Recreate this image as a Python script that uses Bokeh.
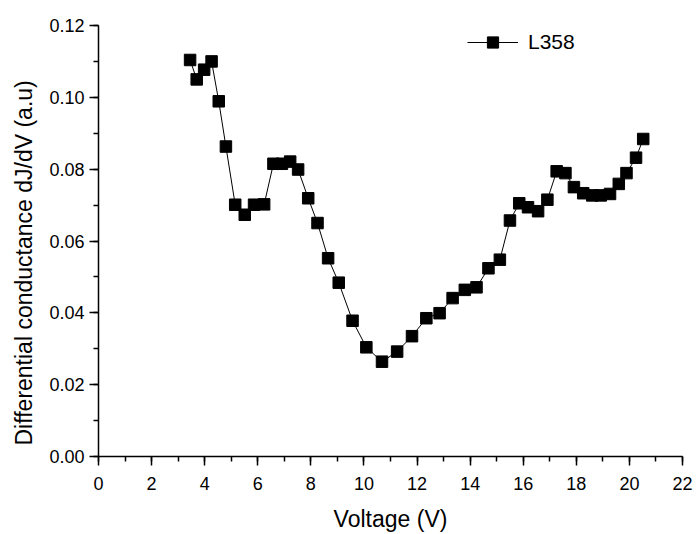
from bokeh.plotting import figure
from bokeh.models import (Range1d, SingleIntervalTicker, NumeralTickFormatter,
                          Legend, LegendItem, ColumnDataSource, Title)
from bokeh.embed import file_html
from bokeh.resources import INLINE

# ---- data ----
voltage = [3.45, 3.70, 3.98, 4.26, 4.53, 4.80, 5.15, 5.51, 5.86, 6.24,
           6.59, 6.91, 7.22, 7.52, 7.90, 8.25, 8.65, 9.05, 9.57, 10.09,
           10.68, 11.25, 11.81, 12.35, 12.85, 13.34, 13.80, 14.24, 14.69, 15.12,
           15.50, 15.85, 16.18, 16.56, 16.91, 17.26, 17.59, 17.91, 18.26, 18.60,
           18.92, 19.27, 19.60, 19.89, 20.25, 20.52]
conductance = [0.1104, 0.1050, 0.1077, 0.1100, 0.0989, 0.0863, 0.0701, 0.0673, 0.0701, 0.0702,
               0.0815, 0.0815, 0.0821, 0.0799, 0.0719, 0.0650, 0.0552, 0.0484, 0.0378, 0.0304,
               0.0264, 0.0292, 0.0335, 0.0385, 0.0399, 0.0441, 0.0464, 0.0471, 0.0524, 0.0548,
               0.0657, 0.0705, 0.0694, 0.0683, 0.0715, 0.0794, 0.0789, 0.0750, 0.0733, 0.0727,
               0.0727, 0.0731, 0.0759, 0.0789, 0.0832, 0.0884]
series_name = "L358"
x_title = "Voltage (V)"
y_title = "Differential conductance dJ/dV (a.u)"

FONT = "Liberation Sans"

src = ColumnDataSource(data=dict(x=voltage, y=conductance))

p = figure(width=696, height=534, output_backend="svg", toolbar_location=None,
           x_range=Range1d(0, 22), y_range=Range1d(0, 0.12),
           min_border_left=98, min_border_right=14, min_border_top=25,
           min_border_bottom=78)
p.outline_line_color = None
p.grid.visible = False
p.background_fill_color = "white"
p.border_fill_color = "white"

ln = p.line("x", "y", source=src, line_color="black", line_width=1)
sc = p.scatter("x", "y", source=src, marker="square", size=11.5,
               fill_color="black", line_color="black")

p.xaxis.ticker = SingleIntervalTicker(interval=2, num_minor_ticks=2)
p.yaxis.ticker = SingleIntervalTicker(interval=0.02, num_minor_ticks=2)
p.yaxis.formatter = NumeralTickFormatter(format="0.00")

for ax in (p.xaxis, p.yaxis):
    ax.axis_line_width = 1.5
    ax.axis_line_color = "black"
    ax.major_tick_line_width = 1.5
    ax.minor_tick_line_width = 1.5
    ax.major_tick_line_color = "black"
    ax.minor_tick_line_color = "black"
    ax.major_tick_out = 9
    ax.major_tick_in = 0
    ax.minor_tick_out = 5
    ax.minor_tick_in = 0
    ax.major_label_text_font = FONT
    ax.major_label_text_font_size = "18px"
    ax.major_label_text_color = "black"
    ax.axis_label_text_font = FONT
    ax.axis_label_text_font_size = "23px"
    ax.axis_label_text_font_style = "normal"
    ax.axis_label_text_color = "black"

p.xaxis.axis_label = x_title
p.xaxis.major_label_standoff = 11
p.yaxis.major_label_standoff = 5
p.xaxis.axis_label_standoff = 13

# vertical title, anchored near the bottom of the y axis like the reference
ytitle = Title(text=y_title, align="left", offset=11, standoff=16,
               vertical_align="top",
               text_font=FONT, text_font_size="23px", text_font_style="normal",
               text_color="black")
p.add_layout(ytitle, "left")

legend = Legend(items=[LegendItem(label=series_name, renderers=[ln, sc])],
                location=(369, 400), padding=0, margin=0,
                glyph_width=51, glyph_height=28, label_standoff=10,
                label_text_font=FONT, label_text_font_size="21px",
                label_text_color="black", border_line_color=None,
                background_fill_alpha=0)
p.add_layout(legend)

open("out.html", "w").write(file_html(p, INLINE))
